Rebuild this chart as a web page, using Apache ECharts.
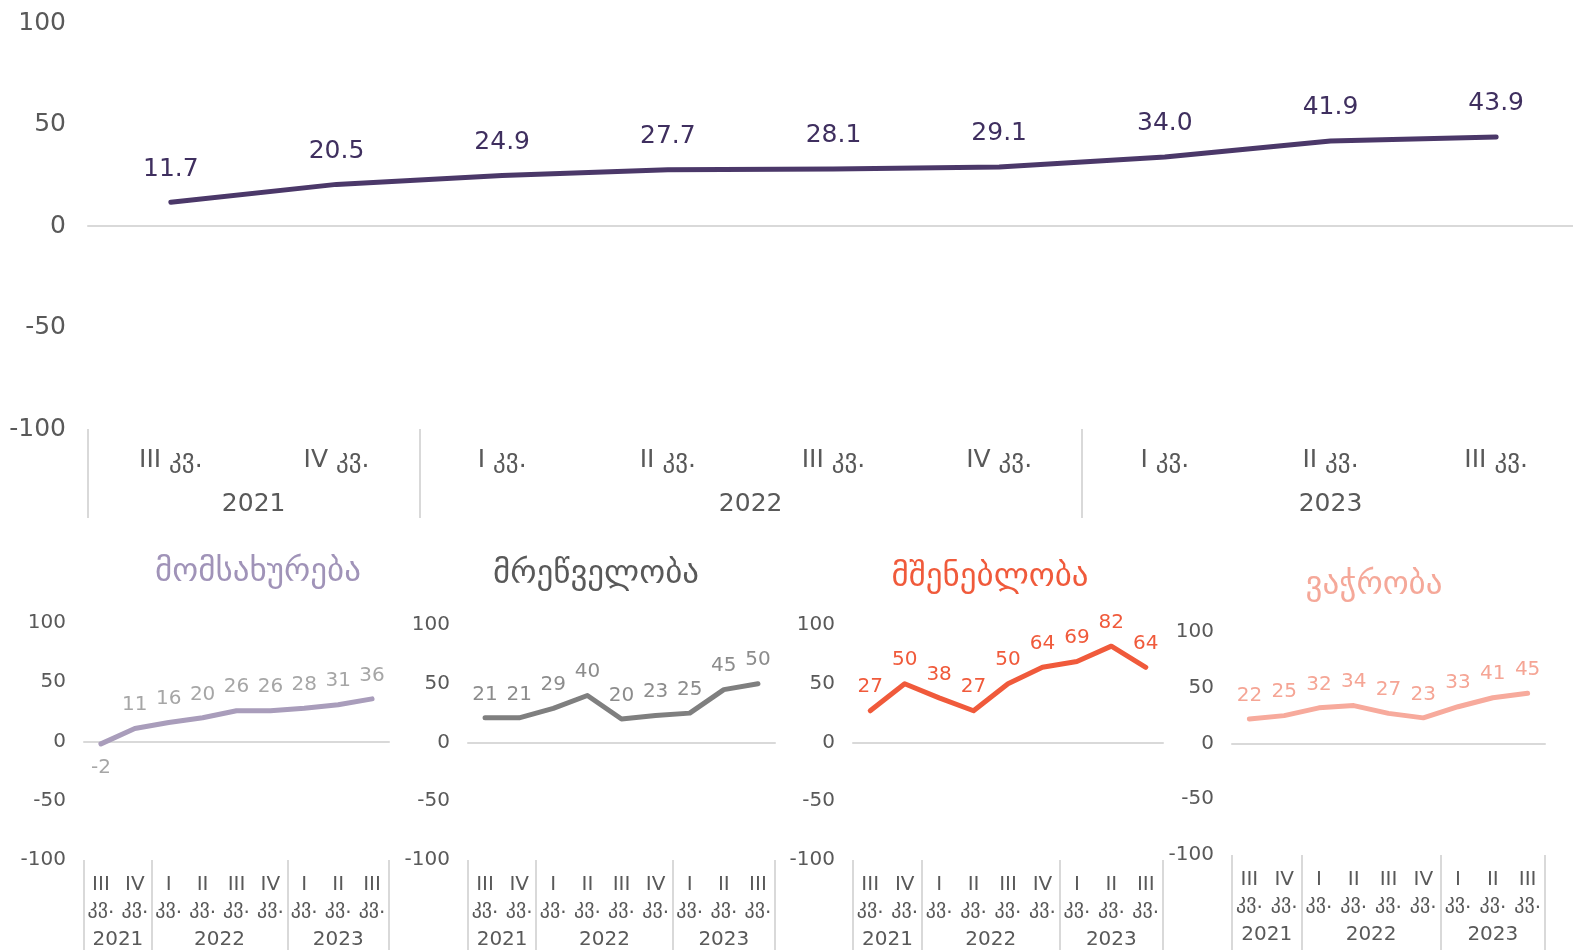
<!DOCTYPE html>
<html>
<head>
<meta charset="utf-8">
<script src="https://cdn.jsdelivr.net/npm/echarts@6.0.0/dist/echarts.min.js"></script>
<style>
  html, body { margin: 0; padding: 0; background: #fff; }
  #chart { width: 1573px; height: 950px; }
</style>
</head>
<body>
<div id="chart"></div>
<script>
// quarters and the years they belong to
const quarters = ['III', 'IV', 'I', 'II', 'III', 'IV', 'I', 'II', 'III']
const quarterSuffix = 'კვ.'
const years = ['2021', '2022', '2023']
const yearSizes = [2, 4, 3]

// y axis
const yMin = -100
const yMax = 100
const yStep = 50

// top chart
const totalValues = [11.7, 20.5, 24.9, 27.7, 28.1, 29.1, 34.0, 41.9, 43.9]

// small charts
const sectorNames = ['მომსახურება', 'მრეწველობა', 'მშენებლობა', 'ვაჭრობა']
const servicesValues = [-2, 11, 16, 20, 26, 26, 28, 31, 36]
const industryValues = [21, 21, 29, 40, 20, 23, 25, 45, 50]
const constructionValues = [27, 50, 38, 27, 50, 64, 69, 82, 64]
const tradeValues = [22, 25, 32, 34, 27, 23, 33, 41, 45]

// where each year group starts and where its label sits
const groupStarts = []
const groupCenters = []
let acc = 0
yearSizes.forEach(n => { groupStarts.push(acc); groupCenters.push(acc + n / 2); acc += n })

const axisText = '#595959'
const sepColor = '#d9d9d9'

const option = {
  animation: false,
  textStyle: { fontFamily: 'DejaVu Sans' },
  title: [],
  grid: [],
  xAxis: [],
  yAxis: [],
  series: []
}

function addPanel(p) {
  const g = option.grid.length
  option.grid.push({
    left: p.left, top: p.top, width: p.width, height: p.height,
    containLabel: false, outerBoundsMode: 'none'
  })

  option.yAxis.push({
    gridIndex: g, type: 'value', min: yMin, max: yMax, interval: yStep,
    axisLine: { show: false }, axisTick: { show: false }, splitLine: { show: false },
    axisLabel: { color: axisText, fontSize: p.font, margin: p.yMargin }
  })

  // quarter labels + year separators
  const qx = option.xAxis.length
  option.xAxis.push({
    gridIndex: g, type: 'category', position: 'bottom', data: quarters,
    axisLine: { show: false, onZero: false },
    axisTick: {
      show: true, length: p.sepLen, interval: i => groupStarts.includes(i),
      lineStyle: { color: sepColor, width: 2 }
    },
    axisLabel: {
      interval: 0, color: axisText, fontSize: p.font, lineHeight: p.lineH, margin: p.qMargin,
      formatter: v => v + (p.stacked ? '\n' : ' ') + quarterSuffix
    }
  })
  // years
  option.xAxis.push({
    gridIndex: g, type: 'value', position: 'bottom', min: 0, max: quarters.length, interval: 0.5,
    axisLine: { show: false, onZero: false }, axisTick: { show: false }, splitLine: { show: false },
    axisLabel: {
      color: axisText, fontSize: p.font, margin: p.yearMargin,
      formatter: v => { const i = groupCenters.indexOf(v); return i >= 0 ? years[i] : '' }
    }
  })
  // zero line
  option.xAxis.push({
    gridIndex: g, type: 'category', position: 'bottom', data: quarters,
    axisLine: { show: true, onZero: true, lineStyle: { color: sepColor, width: 2 } },
    axisTick: { show: false }, axisLabel: { show: false }
  })

  option.series.push({
    type: 'line', xAxisIndex: qx, yAxisIndex: g, z: 5,
    data: p.values.map(v => v < 0 ? { value: v, label: { position: 'bottom' } } : v),
    symbol: 'circle', symbolSize: 1,
    itemStyle: { color: p.lineColor },
    lineStyle: { color: p.lineColor, width: 5, cap: 'round', join: 'round' },
    label: {
      show: true, position: 'top', distance: p.labelDist,
      color: p.labelColor, fontSize: p.font,
      formatter: p.decimals ? (d => Number(d.value).toFixed(1)) : (d => String(d.value))
    }
  })

  if (p.title) {
    option.title.push({
      text: p.title, left: p.titleX, top: p.titleY, textAlign: 'center',
      textStyle: { color: p.titleColor, fontSize: 33, fontWeight: 'normal', fontFamily: 'DejaVu Sans' }
    })
  }
}

addPanel({
  left: 88, top: 23, width: 1491, height: 406, font: 25, yMargin: 22,
  lineH: 30, qMargin: 16, yearMargin: 63, sepLen: 89, stacked: false,
  values: totalValues, lineColor: '#4b3869', labelColor: '#3f2f5f', labelDist: 20, decimals: true
})

const smallPanels = [
  { left: 84, top: 623, width: 305, height: 237, titleX: 253, titleY: 551, titleColor: '#a093b8',
    values: servicesValues, lineColor: '#a99dbb', labelColor: '#a6a6a6' },
  { left: 468, top: 625, width: 307, height: 235, titleX: 591, titleY: 553, titleColor: '#595959',
    values: industryValues, lineColor: '#7f7f7f', labelColor: '#8c8c8c' },
  { left: 853, top: 625, width: 310, height: 235, titleX: 985, titleY: 556, titleColor: '#f05a3b',
    values: constructionValues, lineColor: '#f05a3b', labelColor: '#f05a3b' },
  { left: 1232, top: 632, width: 313, height: 223, titleX: 1369, titleY: 564, titleColor: '#f5a899',
    values: tradeValues, lineColor: '#f7aa9c', labelColor: '#f5a595' }
]

smallPanels.forEach((sp, i) => {
  addPanel(Object.assign({
    font: 20, yMargin: 18, lineH: 23, qMargin: 13, yearMargin: 70, sepLen: 95, stacked: true,
    labelDist: 13, decimals: false, title: sectorNames[i]
  }, sp))
})

const chart = echarts.init(document.getElementById('chart'), null, { renderer: 'canvas' })
chart.setOption(option)
</script>
</body>
</html>
